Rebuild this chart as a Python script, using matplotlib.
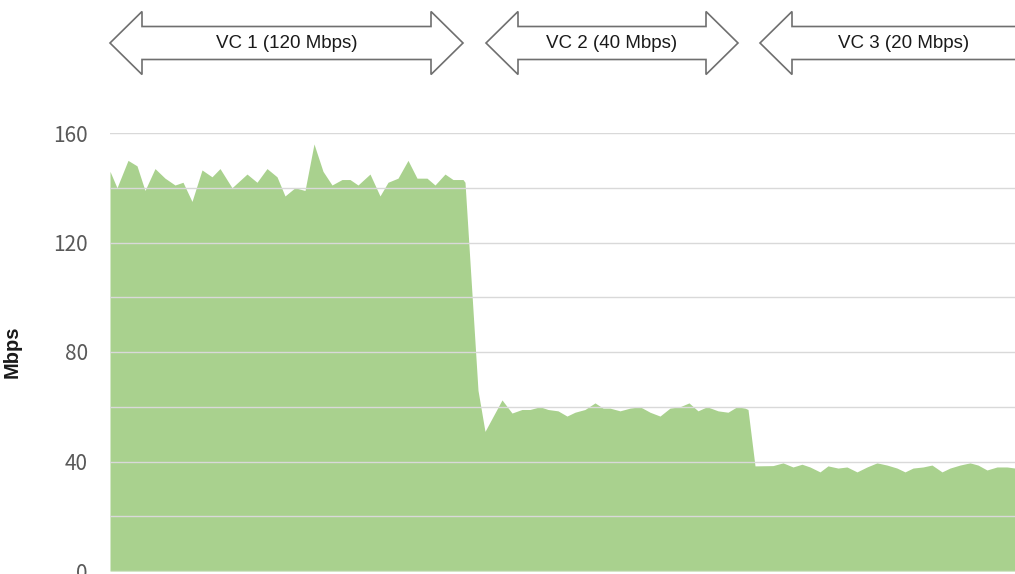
import numpy as np
import matplotlib
matplotlib.use("Agg")
import matplotlib.pyplot as plt
from matplotlib.patches import Polygon

# time axis (arbitrary units) and measured throughput in Mbps
t = [0, 1.4, 3.6, 5.4, 7, 9, 11, 13, 14.6, 16.4, 18.4, 20.4, 22, 24.4, 27.4, 29.4,
     31.4, 33.4, 35, 37, 39, 40.8, 42.6, 44.4, 46.4, 48, 49.6, 52, 54, 55.6, 57.6,
     59.6, 61.4, 63.4, 65, 67, 68.6, 70.6, 71,
     73.6, 75, 78.4, 80.4, 82.4, 84, 86, 87.6, 89.6, 91.4, 93, 95, 97, 98.6, 100,
     102, 104, 106, 108, 110, 112, 114, 115.8, 117.6, 119.4, 121.6, 123.6, 125.4,
     127, 127.6,
     129, 132.6, 134.6, 136.6, 138.4, 140, 142, 143.6, 145.6, 147.4, 149.4, 151.4,
     153.4, 155.4, 157.4, 159, 160.6, 162.6, 164.4, 166.4, 168, 170, 172, 173.6,
     175.4, 177.4, 179.4, 181]
mbps = [146, 140, 150, 148, 139, 147, 143.5, 141, 142, 135, 146.5, 144, 147, 140, 145, 142,
        147, 144, 137, 140, 139, 156, 146, 141, 143, 143, 141, 145, 137, 142, 143.5,
        150, 143.5, 143.5, 141, 145, 143, 143, 142,
        66, 51, 62.5, 57.7, 59, 59, 60, 59, 58.5, 56.6, 58, 59, 61.4, 59.5, 59.5,
        58.5, 59.5, 60, 58, 56.6, 59.5, 60, 61.4, 58.5, 60, 58.5, 58, 60,
        59.5, 59,
        38.4, 38.5, 39.5, 38, 39, 38, 36.2, 38.4, 37.6, 38, 36.2, 38,
        39.5, 38.7, 37.6, 36.2, 37.6, 38, 38.7, 36.2, 37.6, 38.7, 39.5, 38.7,
        36.9, 38, 38, 37.6]

vc_labels = ["VC 1 (120 Mbps)", "VC 2 (40 Mbps)", "VC 3 (20 Mbps)"]
yticks = [0, 40, 80, 120, 160]

W, H = 1015, 574
fig = plt.figure(figsize=(W / 100, H / 100), dpi=100)
ax = fig.add_axes([110 / W, 3 / H, 1 - 110 / W, (571 - 133) / H])

ax.fill_between(t, mbps, 0, color="#a9d18e", lw=0, zorder=1)
ax.set_xlim(0, 181)
ax.set_ylim(0, 160)

ax.set_yticks(yticks)
ax.set_yticks([20, 60, 100, 140], minor=True)
ax.set_yticklabels([str(v) for v in yticks], fontsize=15, color="#595959",
                   family=["Noto Sans CJK JP", "DejaVu Sans"])
ax.tick_params(axis="y", which="both", length=0, pad=16)
ax.set_xticks([])
ax.grid(axis="y", which="both", color="#d9d9d9", lw=1, zorder=2)
ax.set_axisbelow(False)
for s in ax.spines.values():
    s.set_visible(False)

ax.set_ylabel("Mbps", fontsize=14.5, family="Liberation Sans", color="#1a1a1a",
              fontweight="bold")
ax.yaxis.set_label_coords(-88 / 905, 0.5)


def px(x, y):
    return (x / W, 1 - y / H)


def double_arrow(x0, x1, label):
    yc, sh, hh, hl = 43, 16.5, 31.5, 32
    pts = [(x0, yc), (x0 + hl, yc - hh), (x0 + hl, yc - sh), (x1 - hl, yc - sh),
           (x1 - hl, yc - hh), (x1, yc), (x1 - hl, yc + hh), (x1 - hl, yc + sh),
           (x0 + hl, yc + sh), (x0 + hl, yc + hh)]
    poly = Polygon([px(*p) for p in pts], closed=True, facecolor="white",
                   edgecolor="#6f6f6f", lw=1.2, transform=fig.transFigure)
    fig.add_artist(poly)
    cx = (x0 + min(x1, 1060)) / 2
    fig.text(*px(cx, yc), label, ha="center", va="center", fontsize=13.5,
             family="Liberation Sans", color="#1a1a1a")


double_arrow(110, 463, vc_labels[0])
double_arrow(486, 738, vc_labels[1])
double_arrow(760, 1048, vc_labels[2])

fig.savefig("out.png", dpi=100)
